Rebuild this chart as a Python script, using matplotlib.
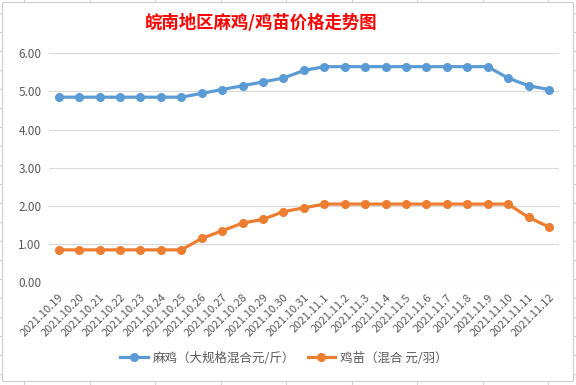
import matplotlib.pyplot as plt
from matplotlib.patches import Rectangle
from matplotlib.lines import Line2D

plt.rcParams['font.family'] = ['Noto Sans CJK SC', 'DejaVu Sans']

dates = ["2021.10.19", "2021.10.20", "2021.10.21", "2021.10.22", "2021.10.23",
         "2021.10.24", "2021.10.25", "2021.10.26", "2021.10.27", "2021.10.28",
         "2021.10.29", "2021.10.30", "2021.10.31", "2021.11.1", "2021.11.2",
         "2021.11.3", "2021.11.4", "2021.11.5", "2021.11.6", "2021.11.7",
         "2021.11.8", "2021.11.9", "2021.11.10", "2021.11.11", "2021.11.12"]
mj = [4.85, 4.85, 4.85, 4.85, 4.85, 4.85, 4.85, 4.95, 5.05, 5.15, 5.25, 5.35,
      5.55, 5.65, 5.65, 5.65, 5.65, 5.65, 5.65, 5.65, 5.65, 5.65, 5.35, 5.15, 5.05]
jm = [0.85, 0.85, 0.85, 0.85, 0.85, 0.85, 0.85, 1.15, 1.35, 1.55, 1.65, 1.85,
      1.95, 2.05, 2.05, 2.05, 2.05, 2.05, 2.05, 2.05, 2.05, 2.05, 2.05, 1.70, 1.45]
yticks = [0, 1, 2, 3, 4, 5, 6]

W, H = 576, 385
fig = plt.figure(figsize=(W / 100, H / 100), dpi=100)

# spreadsheet cell grid behind the chart
for yy in range(13, H, 19):
    fig.add_artist(Line2D([0, 1], [1 - yy / H] * 2, color="#D4D4D4", lw=0.8, zorder=0))
x = 24.0
while x < W:
    fig.add_artist(Line2D([x / W] * 2, [0, 1], color="#D4D4D4", lw=0.8, zorder=0))
    x += 65.5
fig.add_artist(Rectangle((2 / W, 1 - 381 / H), 571 / W, 379 / H,
                         facecolor="white", edgecolor="#D0D0D0", lw=0.9, zorder=1))

ax = fig.add_axes([48.5 / W, 1 - 282.3 / H, 510.7 / W, 229 / H])
ax.set_zorder(2)
ax.patch.set_alpha(0)

xs = range(len(dates))
ax.plot(xs, mj, color="#5B9BD5", lw=2.3, marker="o", ms=5.5, clip_on=False,
        label="麻鸡（大规格混合元/斤）", zorder=3)
ax.plot(xs, jm, color="#ED7D31", lw=2.3, marker="o", ms=5.5, clip_on=False,
        label="鸡苗（混合 元/羽）", zorder=3)

ax.set_xlim(-0.5, len(dates) - 0.5)
ax.set_ylim(0, 6)
ax.set_yticks(yticks)
ax.set_yticklabels([f"{v:.2f}" for v in yticks], fontsize=8.5, color="#595959")
ax.set_xticks(list(xs))
ax.set_xticklabels(dates, rotation=45, ha="right", rotation_mode="anchor",
                   fontsize=8, color="#595959")
ax.tick_params(axis="y", length=0, pad=5)
ax.tick_params(axis="x", length=0, pad=7)
ax.grid(axis="y", color="#D9D9D9", lw=0.8)
for s in ax.spines.values():
    s.set_visible(False)

fig.text(261 / W, 1 - 23 / H, "皖南地区麻鸡/鸡苗价格走势图", ha="center", va="center",
         fontsize=12.5, color="red", fontweight="bold")
fig.legend(loc="center", bbox_to_anchor=(284 / W, 1 - 358 / H), ncol=2, frameon=False,
           fontsize=9, labelcolor="#595959", handlelength=2.2, columnspacing=1.0,
           handletextpad=0.4)

fig.savefig("out.png", dpi=100)
